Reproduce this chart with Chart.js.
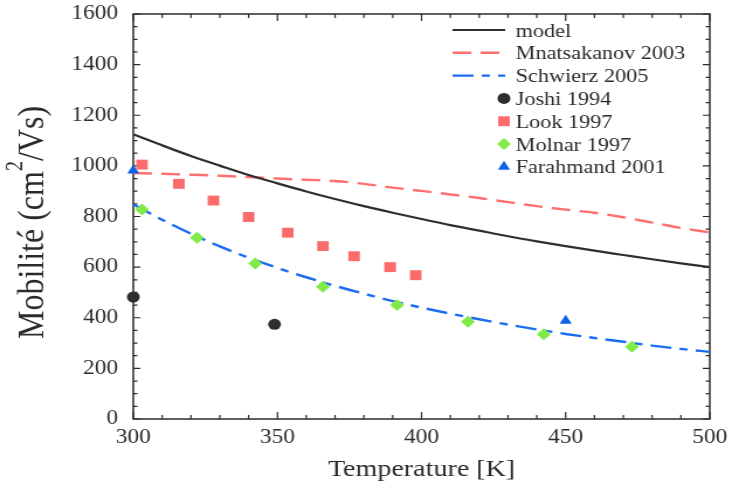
<!DOCTYPE html>
<html>
<head>
<meta charset="utf-8">
<title>Mobilité en fonction de la température</title>
<script src="https://cdn.jsdelivr.net/npm/chart.js@4/dist/chart.umd.min.js"></script>
<style>
  html, body { margin: 0; padding: 0; background: #fff; overflow: hidden; }
  /* the figure is drawn narrow and stretched sideways, like the original plot */
  #wrap { width: 626px; height: 484px; transform: scale(1.1693, 1); transform-origin: 0 0; }
</style>
</head>
<body>
<div id="wrap"><canvas id="mobChart" width="626" height="484"></canvas></div>
<script>
// temperature grid for the curves (K)
const curveTemps = [300, 310, 320, 330, 340, 350, 360, 370, 380, 390, 400,
                    410, 420, 430, 440, 450, 460, 470, 480, 490, 500];
const modelMob = [1125, 1081, 1039, 1001, 964, 931, 899, 869, 841, 815, 790,
                  766, 744, 722, 702, 683, 665, 648, 631, 615, 600];
const mnatsakanovMob = [972, 969, 965, 961, 956, 950, 945, 940, 929, 914, 901,
                        887, 873, 857, 841, 827, 815, 797, 776, 755, 737];
const schwierzMob = [848, 787, 732, 682, 637, 597, 560, 526, 495, 466, 440,
                     416, 394, 373, 354, 336, 320, 305, 290, 277, 265];

// measurements
const joshiT = [300, 349];
const joshiMob = [482, 374];
const lookT = [303, 315.8, 327.8, 340, 353.6, 365.8, 376.6, 389.1, 398];
const lookMob = [1005, 929, 863, 798, 736, 683, 643, 600, 568];
const molnarT = [303, 322.1, 342.3, 365.8, 391.5, 416.1, 442.4, 473];
const molnarMob = [828, 716, 614, 522, 450, 384, 335, 285];
const farahmandT = [300, 450];
const farahmandMob = [982, 388];

const xTicks = [300, 350, 400, 450, 500];
const yTicks = [0, 200, 400, 600, 800, 1000, 1200, 1400, 1600];

// y axis title, split around the superscript
const yTitleHead = 'Mobilité (cm';
const yTitleSup = '2';
const yTitleTail = '/Vs)';

const ink = '#2b2b2b';
const serif = "'Liberation Serif', 'Times New Roman', serif";

function pairs(xs, ys) {
    return xs.map((x, i) => ({ x: x, y: ys[i] }));
}

// box around the plot with inward major/minor ticks on every side
const framePlugin = {
    id: 'frame',
    beforeDatasetsDraw(chart) {
        const { ctx, chartArea: a, scales: { x, y } } = chart;
        ctx.save();
        ctx.strokeStyle = ink;
        ctx.lineWidth = 1.5;
        ctx.strokeRect(a.left, a.top, a.right - a.left, a.bottom - a.top);
        ctx.lineWidth = 1.2;
        ctx.beginPath();
        for (let v = x.min; v <= x.max; v += 10) {
            const px = x.getPixelForValue(v);
            const len = v % 50 === 0 ? 7 : 4;
            ctx.moveTo(px, a.bottom); ctx.lineTo(px, a.bottom - len);
            ctx.moveTo(px, a.top); ctx.lineTo(px, a.top + len);
        }
        for (let v = y.min; v <= y.max; v += 50) {
            const py = y.getPixelForValue(v);
            const len = v % 200 === 0 ? 6 : 3.5;
            ctx.moveTo(a.left, py); ctx.lineTo(a.left + len, py);
            ctx.moveTo(a.right, py); ctx.lineTo(a.right - len, py);
        }
        ctx.stroke();
        ctx.restore();
    }
};

// rotated y title with a raised "2"
const yTitlePlugin = {
    id: 'yTitle',
    afterDraw(chart) {
        const { ctx, chartArea: a } = chart;
        const main = '32px ' + serif, sup = '20px ' + serif;
        ctx.save();
        ctx.font = main;
        const w1 = ctx.measureText(yTitleHead).width;
        const w3 = ctx.measureText(yTitleTail).width;
        ctx.font = sup;
        const w2 = ctx.measureText(yTitleSup).width;
        const total = w1 + w2 + w3;
        const cy = (a.top + a.bottom) / 2 + 6;
        ctx.translate(37, cy + total / 2);
        ctx.rotate(-Math.PI / 2);
        ctx.fillStyle = ink;
        ctx.textBaseline = 'alphabetic';
        ctx.font = main;
        ctx.fillText(yTitleHead, 0, 0);
        ctx.font = sup;
        ctx.fillText(yTitleSup, w1, -18);
        ctx.font = main;
        ctx.fillText(yTitleTail, w1 + w2, 0);
        ctx.restore();
    }
};

// legend in the top right corner of the plot
const legendPlugin = {
    id: 'cornerLegend',
    afterDraw(chart) {
        const { ctx, chartArea: a } = chart;
        const x1 = a.right - 220, x2 = a.right - 175, tx = a.right - 166;
        ctx.save();
        ctx.font = '19px ' + serif;
        ctx.textBaseline = 'alphabetic';
        chart.data.datasets.forEach((ds, i) => {
            const yy = a.top + 16 + i * 22.8;
            if (ds.showLine) {
                ctx.strokeStyle = ds.borderColor;
                ctx.lineWidth = ds.borderWidth;
                ctx.setLineDash(ds.borderDash || []);
                ctx.beginPath();
                ctx.moveTo(x1, yy); ctx.lineTo(x2, yy);
                ctx.stroke();
                ctx.setLineDash([]);
            } else {
                ctx.fillStyle = ds.backgroundColor;
                ctx.strokeStyle = ds.backgroundColor;
                Chart.helpers.drawPoint(ctx, {
                    pointStyle: ds.pointStyle,
                    radius: ds.pointRadius,
                    rotation: 0,
                    borderWidth: 0
                }, x2 - 1, yy);
            }
            ctx.fillStyle = ink;
            ctx.fillText(ds.label, tx, yy + 6.5);
        });
        ctx.restore();
    }
};

function curve(label, ys, color, width, dash) {
    return {
        label: label,
        data: pairs(curveTemps, ys),
        showLine: true,
        borderColor: color,
        borderWidth: width,
        borderDash: dash,
        pointRadius: 0,
        cubicInterpolationMode: 'monotone',
        order: 2
    };
}

function markers(label, xs, ys, color, style, radius) {
    return {
        label: label,
        data: pairs(xs, ys),
        showLine: false,
        pointStyle: style,
        pointRadius: radius,
        backgroundColor: color,
        borderColor: color,
        borderWidth: 0,
        clip: false,
        order: 1
    };
}

Chart.defaults.font.family = serif;
Chart.defaults.color = ink;

const tickFont = { family: serif, size: 20 };

new Chart(document.getElementById('mobChart'), {
    type: 'scatter',
    data: {
        datasets: [
            curve('model', modelMob, '#2e2e2e', 2.2, []),
            curve('Mnatsakanov 2003', mnatsakanovMob, '#ff6f6f', 2.4, [16, 8]),
            curve('Schwierz 2005', schwierzMob, '#1b6cf2', 2.4, [18, 7, 7, 7]),
            markers('Joshi 1994', joshiT, joshiMob, '#2e2e2e', 'circle', 5.5),
            markers('Look 1997', lookT, lookMob, '#fb6b6b', 'rect', 7),
            markers('Molnar 1997', molnarT, molnarMob, '#80ea48', 'rectRot', 6),
            markers('Farahmand 2001', farahmandT, farahmandMob, '#0d60e8', 'triangle', 6)
        ]
    },
    options: {
        responsive: false,
        animation: false,
        devicePixelRatio: 1,
        layout: { padding: { top: 14, right: 19, bottom: 0, left: 0 } },
        plugins: {
            legend: { display: false },
            tooltip: { enabled: false }
        },
        scales: {
            x: {
                type: 'linear',
                min: 300,
                max: 500,
                afterBuildTicks: s => { s.ticks = xTicks.map(v => ({ value: v })); },
                afterFit: s => { s.height = 65; s.paddingLeft = 0; s.paddingRight = 0; },
                grid: { display: false, drawTicks: false },
                border: { display: false },
                ticks: { padding: 7, font: tickFont, color: ink, callback: v => String(v) },
                title: {
                    display: true,
                    text: 'Temperature [K]',
                    font: { family: serif, size: 24 },
                    color: ink,
                    padding: { top: 4, bottom: 0 }
                }
            },
            y: {
                type: 'linear',
                min: 0,
                max: 1600,
                afterBuildTicks: s => { s.ticks = yTicks.map(v => ({ value: v })); },
                afterFit: s => { s.width = 114; s.paddingTop = 0; s.paddingBottom = 0; },
                grid: { display: false, drawTicks: false },
                border: { display: false },
                ticks: { padding: 13, font: tickFont, color: ink, callback: v => String(v) }
            }
        }
    },
    plugins: [framePlugin, yTitlePlugin, legendPlugin]
});
</script>
</body>
</html>
